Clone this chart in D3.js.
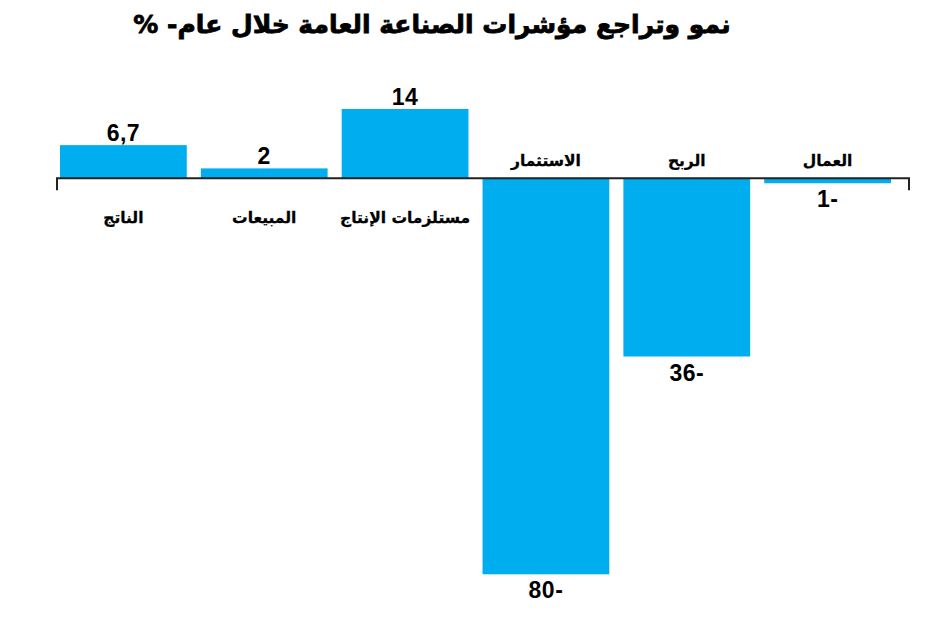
<!DOCTYPE html>
<html>
<head>
<meta charset="utf-8">
<script src="https://cdn.jsdelivr.net/npm/d3@7"></script>
<style>
  body { margin: 0; background: #fff; }
  svg { display: block; }
</style>
</head>
<body>
<svg id="chart"></svg>
<script>
// growth / decline of public industry indicators over a year (%)

const categories = ["الناتج", "المبيعات", "مستلزمات الإنتاج", "الاستثمار", "الربح", "العمال"];
const values = [6.7, 2, 14, -80, -36, -1];
const title = "نمو وتراجع مؤشرات الصناعة العامة خلال عام- %";

const w = 950;
const h = 618;
const barColor = "#00adee";
const axisColor = "#222";
const arabicFont = "'DejaVu Sans', sans-serif";
const numFont = "'Liberation Sans', Arial, sans-serif";

const data = categories.map((c, i) => ({cat: c, val: values[i]}));

// arabic style number: comma decimal, minus sign after
const fmt = v => {
    const s = String(Math.abs(v)).replace(".", ",");
    return v < 0 ? s + "-" : s;
}

const svg = d3.select("#chart")
    .attr("width", w)
    .attr("height", h);

// SCALES
const xScale = d3.scaleBand()
    .domain(categories)
    .range([60, 891])
    .paddingInner(0.1)
    .paddingOuter(0);

const yScale = d3.scaleLinear()
    .domain([d3.min(values), d3.max(values)])
    .range([574.3, 109]);

const y0 = yScale(0);

// TITLE
svg.append("text")
    .attr("x", 432)
    .attr("y", 33)
    .attr("direction", "rtl")
    .attr("text-anchor", "middle")
    .style("font-family", arabicFont)
    .style("font-weight", "bold")
    .style("font-size", "25px")
    .style("stroke", "#000")
    .style("stroke-width", 0.8)
    .text(title);

// BARS
svg.selectAll(".bar")
    .data(data)
    .join("rect")
    .attr("class", "bar")
    .attr("x", d => xScale(d.cat))
    .attr("width", xScale.bandwidth())
    .attr("y", d => Math.min(yScale(d.val), y0))
    .attr("height", d => Math.abs(yScale(d.val) - y0))
    .attr("fill", barColor);

// ZERO AXIS with end ticks
const axisLeft = 57;
const axisRight = 909;
svg.append("path")
    .attr("d", `M${axisLeft},${y0 + 12}V${y0}H${axisRight}V${y0 + 12}`)
    .attr("fill", "none")
    .attr("stroke", axisColor)
    .attr("stroke-width", 2);

// VALUE LABELS
svg.selectAll(".val")
    .data(data)
    .join("text")
    .attr("class", "val")
    .attr("x", d => xScale(d.cat) + xScale.bandwidth() / 2)
    .attr("y", d => d.val >= 0 ? yScale(d.val) - 4 : yScale(d.val) + 24)
    .attr("text-anchor", "middle")
    .style("font-family", numFont)
    .style("font-weight", "bold")
    .style("font-size", "23px")
    .style("letter-spacing", "0.5px")
    .text(d => fmt(d.val));

// CATEGORY LABELS (opposite side of the axis)
svg.selectAll(".cat")
    .data(data)
    .join("text")
    .attr("class", "cat")
    .attr("x", d => xScale(d.cat) + xScale.bandwidth() / 2)
    .attr("y", d => d.val >= 0 ? y0 + 45 : y0 - 12)
    .attr("direction", "rtl")
    .attr("text-anchor", "middle")
    .style("font-family", arabicFont)
    .style("font-weight", "bold")
    .style("font-size", "15.5px")
    .style("stroke", "#000")
    .style("stroke-width", 0.3)
    .text(d => d.cat);
</script>
</body>
</html>
